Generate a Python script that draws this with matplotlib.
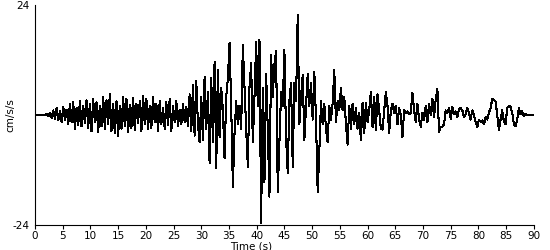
import numpy as np
import matplotlib
matplotlib.use('Agg')
import matplotlib.pyplot as plt

plt.rcParams['axes.unicode_minus'] = False

# sampling interval of the trace (s)
dt = 0.3

# acceleration (cm/s/s), 10 samples (3 s) per row
acc_0_30 = [
    0, 0, 0, 0, 0, 0, 0, 0.2, -0.3, 0.4,
    -0.6, 1.0, -0.8, 1.5, -1.2, 0.8, -1.5, 1.8, -1.0, 1.2,
    -2.0, 2.5, -1.5, 2.8, -3.0, 1.5, -2.2, 3.0, -2.5, 2.0,
    -1.8, 3.2, -2.8, 2.5, -3.5, 3.5, -1.5, 2.8, -3.8, 2.0,
    -2.5, 4.0, -3.0, 3.2, -2.0, 4.5, -3.5, 2.5, -4.0, 3.0,
    -4.5, 2.0, -3.0, 4.0, -2.5, 3.5, -3.8, 2.2, -2.8, 3.8,
    -3.2, 2.5, -1.8, 3.0, -3.5, 4.2, -2.0, 3.5, -3.0, 2.0,
    -2.8, 4.0, -1.5, 2.5, -3.5, 3.0, -2.0, 1.5, -3.0, 2.8,
    -2.2, 3.5, -3.5, 2.0, -1.5, 3.0, -2.5, 1.2, -2.0, 2.5,
    -1.5, 1.8, -2.5, 4.5, -3.5, 6.5, -4.5, 7.5, -2.0, -6.0,
]
acc_30_60 = [
    4.0, -5.5, 8.3, -3.0, 5.0, -10.5, 8.0, -6.0, 11.6, -11.6,
    9.8, -4.8, 6.0, 1.0, -9.4, 4.0, 8.0, 15.7, 2.0, -15.7,
    -4.0, 3.0, -2.0, 2.0, -3.0, 15.3, 6.0, -3.0, -11.3, 6.0,
    11.3, -6.0, 4.0, 16.0, 2.0, 16.4, -23.6, 6.0, -14.6, 9.0,
    -3.0, -17.8, 13.0, 4.0, 11.0, 14.0, -16.8, -6.0, 5.0, 2.0,
    14.2, -5.0, -12.7, 3.0, 7.0, -11.3, 7.0, 3.0, 21.8, -2.0,
    4.0, 8.7, -5.5, 2.0, 9.0, 2.0, 7.0, -1.0, 9.4, -1.0,
    -16.8, -8.0, 3.0, -2.0, 2.5, -3.0, -6.0, 2.0, -1.0, 2.5,
    9.8, -1.5, 3.0, 1.0, 5.8, 1.0, 4.0, -2.0, -6.5, 2.0,
    -3.0, 2.5, -2.0, 1.5, -3.0, 0.5, -5.5, 2.6, -4.0, 2.6,
]
acc_60_90 = [
    -1.5, 1.0, 5.0, -2.6, 4.0, -3.3, 4.5, 1.0, -3.0, -3.2,
    1.0, 5.0, 2.0, -4.0, 1.0, 2.5, 0.5, 2.0, -2.0, 1.5,
    0.0, -4.8, 1.0, 0.5, 0.8, 0.2, 0.5, 4.8, 1.0, -1.5,
    2.5, -1.0, -2.6, 0.5, -1.0, 2.0, -1.5, 2.5, 0.0, 3.5,
    -0.5, 3.5, 5.7, -3.7, -2.6, -2.6, -2.0, 1.0, 0.5, 1.5,
    -0.8, 1.8, 0.2, 0.8, -0.5, 1.2, 1.5, 1.0, -0.5, 0.2,
    1.5, 0.5, -1.0, 1.0, 0.0, -1.5, -2.6, -1.0, -1.5, -1.2,
    -2.0, -0.5, -1.0, 0.5, 1.5, 3.5, 3.2, 3.0, 0.0, -3.3,
    -1.0, 1.0, -1.5, -2.0, 1.5, 2.0, 1.8, 0.5, -2.0, -2.4,
    -1.0, 1.5, 0.2, 0.8, -0.2, 0.2, 0.0, 0.0, 0.0, 0.0,
    0.0,
]

acc = np.array(acc_0_30 + acc_30_60 + acc_60_90)
t = np.arange(len(acc)) * dt

x_ticks = list(range(0, 91, 5))
y_ticks = [-24, 24]

fig = plt.figure(figsize=(5.5, 2.5), dpi=100)
ax = fig.add_axes([0.0636, 0.10, 0.907, 0.88])

ax.plot(t, acc, color='black', lw=0.75, antialiased=False)

ax.set_xlim(0, 90)
ax.set_ylim(-24, 24)
ax.set_xticks(x_ticks)
ax.set_yticks(y_ticks)
ax.tick_params(axis='x', labelsize=7.5, length=3, pad=1)
ax.tick_params(axis='y', labelsize=7.5, length=0, pad=4)

for side in ['top', 'right']:
    ax.spines[side].set_visible(False)

ax.set_xlabel('Time (s)', fontsize=7.5, labelpad=-1)
ax.xaxis.set_label_coords(0.433, -0.075)
ax.set_ylabel('cm/s/s', fontsize=7.5)
ax.yaxis.set_label_coords(-0.04, 0.5)

fig.savefig('out.png', dpi=100)
